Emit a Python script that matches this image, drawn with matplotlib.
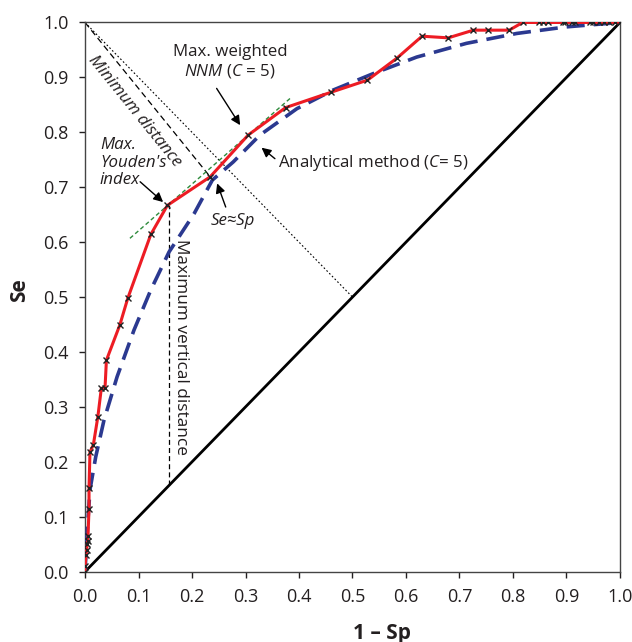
import matplotlib
matplotlib.use("Agg")
import matplotlib.pyplot as plt

plt.rcParams.update({
    "font.family": "Open Sans",
    "mathtext.fontset": "custom",
    "mathtext.rm": "Open Sans",
    "mathtext.it": "Open Sans:italic",
    "font.size": 12.2,
})

# empirical ROC (1 - Sp, Se)
emp_fpr = [0.0, 0.0, 0.002, 0.003, 0.004, 0.005, 0.0056, 0.0075, 0.0075, 0.0093, 0.0156,
           0.024, 0.0305, 0.0374, 0.040, 0.065, 0.080, 0.123, 0.154, 0.234, 0.305,
           0.375, 0.460, 0.528, 0.583, 0.630, 0.679, 0.726, 0.754, 0.793, 0.818,
           0.849, 0.857, 0.865, 0.893, 0.897, 0.910, 0.916, 0.944, 0.950, 0.960,
           0.970, 0.980, 0.990, 1.0]
emp_se = [0.0, 0.01, 0.03, 0.04, 0.05, 0.055, 0.065, 0.115, 0.152, 0.218, 0.231,
          0.282, 0.334, 0.334, 0.385, 0.449, 0.498, 0.614, 0.667, 0.719, 0.795,
          0.845, 0.873, 0.895, 0.935, 0.975, 0.972, 0.986, 0.986, 0.986, 1.0,
          1.0, 1.0, 1.0, 1.0, 1.0, 1.0, 1.0, 1.0, 1.0, 1.0,
          1.0, 1.0, 1.0, 1.0]

# analytical ROC curve (C = 5)
ana_fpr = [0.0, 0.0043, 0.0093, 0.020, 0.0355, 0.060, 0.0916, 0.123, 0.157, 0.204,
           0.238, 0.277, 0.327, 0.396, 0.464, 0.539, 0.620, 0.713, 0.807, 0.900, 1.0]
ana_se = [0.0, 0.076, 0.149, 0.209, 0.276, 0.355, 0.440, 0.513, 0.582, 0.652,
          0.713, 0.746, 0.795, 0.843, 0.877, 0.907, 0.937, 0.962, 0.980, 0.992, 1.0]

youden = (0.157, 0.667)
nnm = (0.305, 0.795)
min_dist_pt = (0.234, 0.719)
tangent_x = [0.084, 0.386]
tangent_y = [0.607, 0.864]

ticks = [i / 10 for i in range(11)]
ticklabels = [f"{t:.1f}" for t in ticks]

TXT = "#231f20"

fig = plt.figure(figsize=(6.32, 6.42), dpi=100)
ax = fig.add_axes([0.1345, 0.1095, 0.8465, 0.8555])

ax.plot([0, 1], [0, 1], color="black", lw=2, zorder=2)
ax.plot([0, 0.5], [1, 0.5], color="black", lw=0.8, ls=(0, (1.5, 2)), zorder=2)
ax.plot([0, min_dist_pt[0]], [1, min_dist_pt[1]], color="black", lw=0.9,
        ls=(0, (5, 3)), zorder=2)
ax.plot([youden[0], youden[0]], [youden[0], youden[1]], color="black", lw=0.9,
        ls=(0, (4, 2.5)), zorder=2)
ax.plot(tangent_x, tangent_y, color="#2e8b3c", lw=1.0, ls=(0, (3, 2)), zorder=3)
ax.plot(ana_fpr, ana_se, color="#2b3990", lw=2.6, ls=(0, (5, 2.5)), zorder=3)
ax.plot(emp_fpr, emp_se, color="#ed1c24", lw=2.2, zorder=4)
ax.plot(emp_fpr, emp_se, ls="none", marker="x", ms=4.5, mew=1.0, color="#222222", zorder=5)

arrow = dict(arrowstyle="-|>", color="black", lw=1.0, mutation_scale=14,
             shrinkA=0, shrinkB=0)
ax.annotate("", xy=(0.290, 0.813), xytext=(0.246, 0.880), arrowprops=arrow)
ax.annotate("", xy=(0.146, 0.673), xytext=(0.103, 0.710), arrowprops=arrow)
ax.annotate("", xy=(0.247, 0.707), xytext=(0.263, 0.664), arrowprops=arrow)
ax.annotate("", xy=(0.330, 0.772), xytext=(0.355, 0.752), arrowprops=arrow)

ax.text(0.271, 0.928, "Max. weighted\n" + r"$\mathit{NNM}$ ($\mathit{C}$ = 5)",
        ha="center", va="center", color=TXT, linespacing=1.1)
ax.text(0.028, 0.745, "Max.\nYouden's\nindex", ha="left", va="center",
        style="italic", color=TXT, linespacing=1.1)
ax.text(0.277, 0.639, "Se≈Sp", ha="center", va="center", style="italic", color=TXT)
ax.text(0.361, 0.744, r"Analytical method ($\mathit{C}$= 5)", ha="left", va="center",
        color=TXT)
ax.text(0.179, 0.41, "Maximum vertical distance", rotation=-90, ha="center",
        va="center", color=TXT, fontsize=12.4)
ax.text(0.0935, 0.839, "Minimum distance", rotation=-51, ha="center", va="center",
        rotation_mode="anchor", style="italic", color=TXT, fontsize=12.2)

ax.set_xlim(0, 1)
ax.set_ylim(0, 1)
ax.set_xticks(ticks)
ax.set_xticklabels(ticklabels)
ax.set_yticks(ticks)
ax.set_yticklabels(ticklabels)
ax.tick_params(direction="out", length=4, width=1, labelsize=13, colors=TXT, pad=8)
for s in ax.spines.values():
    s.set_color("#444444")
    s.set_linewidth(1.0)

fig.text(381.7 / 632, 1 - 633 / 642, "1 – Sp", fontsize=15, fontweight="bold",
         ha="center", va="center", color=TXT)
fig.text(20 / 632, 1 - 290 / 642, "Se", fontsize=15, fontweight="bold", rotation=90,
         ha="center", va="center", color=TXT)

fig.savefig("out.png", dpi=100)
